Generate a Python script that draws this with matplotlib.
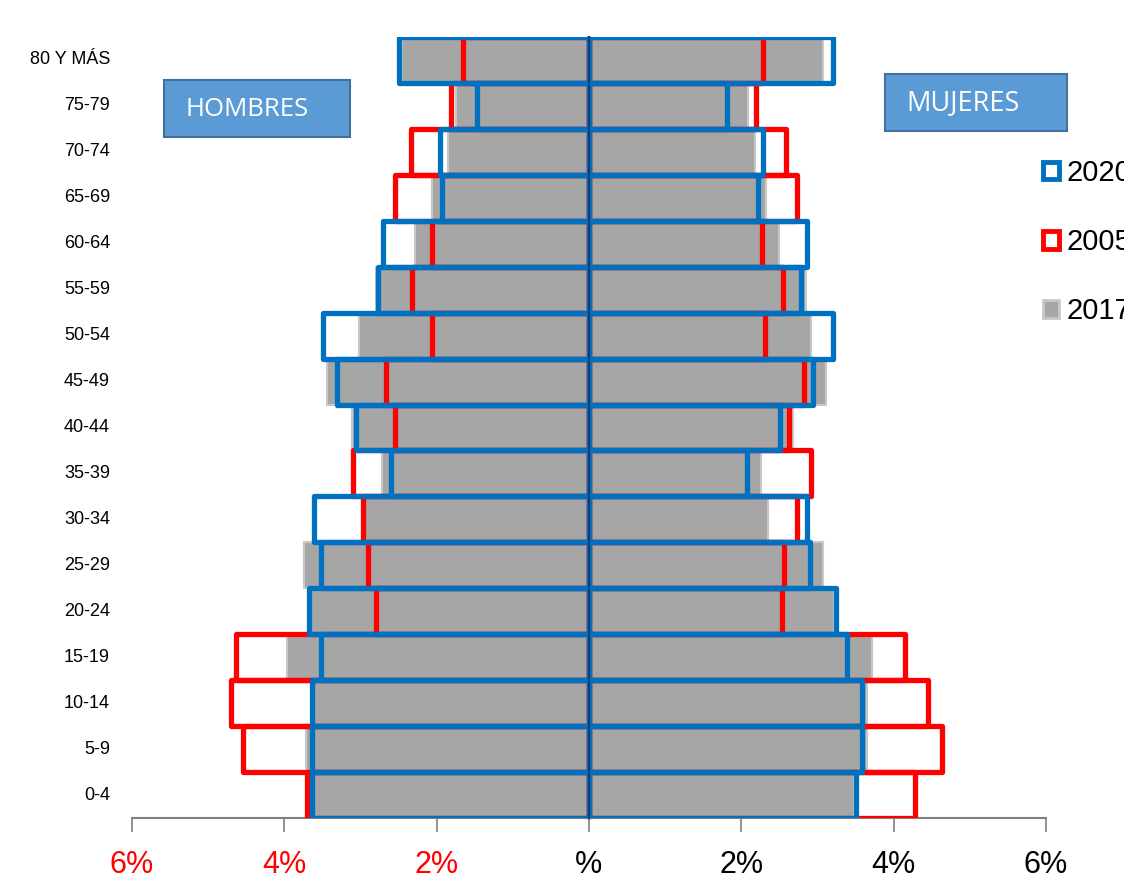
import matplotlib
matplotlib.use("Agg")
import matplotlib.pyplot as plt
from matplotlib.patches import Patch
import numpy as np

plt.rcParams['font.family'] = ['Liberation Sans', 'DejaVu Sans']

# Age groups, bottom to top
groups = ["0-4", "5-9", "10-14", "15-19", "20-24", "25-29", "30-34", "35-39",
          "40-44", "45-49", "50-54", "55-59", "60-64", "65-69", "70-74",
          "75-79", "80 Y MÁS"]

# Percent of population (hombres shown on the left)
hombres_2017 = [3.64, 3.71, 3.64, 3.96, 3.66, 3.74, 2.95, 2.72, 3.11, 3.44,
                3.02, 2.79, 2.28, 2.06, 1.85, 1.75, 2.46]
hombres_2005 = [3.70, 4.54, 4.70, 4.63, 2.80, 2.90, 2.97, 3.10, 2.55, 2.66,
                2.06, 2.32, 2.06, 2.55, 2.34, 1.81, 1.66]
hombres_2020 = [3.64, 3.64, 3.64, 3.52, 3.67, 3.52, 3.61, 2.60, 3.06, 3.31,
                3.49, 2.77, 2.70, 1.93, 1.96, 1.47, 2.49]

mujeres_2017 = [3.48, 3.65, 3.65, 3.72, 3.22, 3.07, 2.35, 2.26, 2.68, 3.11,
                2.92, 2.85, 2.49, 2.32, 2.18, 2.09, 3.07]
mujeres_2005 = [4.28, 4.63, 4.45, 4.15, 2.53, 2.56, 2.73, 2.91, 2.62, 2.82,
                2.31, 2.55, 2.27, 2.73, 2.59, 2.19, 2.29]
mujeres_2020 = [3.51, 3.58, 3.58, 3.39, 3.24, 2.90, 2.86, 2.08, 2.51, 2.94,
                3.20, 2.78, 2.86, 2.22, 2.29, 1.81, 3.20]

xticks = [-6, -4, -2, 0, 2, 4, 6]
xtick_labels = ["6%", "4%", "2%", "%", "2%", "4%", "6%"]
xtick_colors = ["#FF0000", "#FF0000", "#FF0000", "black", "black", "black", "black"]

GRAY = "#A6A6A6"
RED = "#FF0000"
BLUE = "#0070C0"

fig = plt.figure(figsize=(11.24, 8.8), dpi=100)
W, H = 1124, 880
ax = fig.add_axes([132 / W, 1 - 818 / H, (1046 - 132) / W, (818 - 37) / H])

y = np.arange(len(groups))

def both(vals_h, vals_m, **kw):
    ax.barh(y, -np.array(vals_h), height=1.0, **kw)
    ax.barh(y, np.array(vals_m), height=1.0, **kw)

both(hombres_2017, mujeres_2017, color=GRAY, edgecolor="#C8C8C8", linewidth=1.5, zorder=2)
both(hombres_2005, mujeres_2005, facecolor="none", edgecolor=RED, linewidth=3.8,
     joinstyle="round", zorder=3)
both(hombres_2020, mujeres_2020, facecolor="none", edgecolor=BLUE, linewidth=3.8,
     joinstyle="round", zorder=4)

ax.set_xlim(-6, 6)
ax.set_ylim(-0.5, len(groups) - 0.5)

# spines
for s in ["top", "right"]:
    ax.spines[s].set_visible(False)
ax.spines["left"].set_position(("data", 0))
ax.spines["left"].set_color("#203864")
ax.spines["left"].set_linewidth(1.5)
ax.spines["left"].set_zorder(5)
ax.spines["bottom"].set_color("#808080")
ax.spines["bottom"].set_linewidth(1.5)

ax.set_yticks(np.arange(-0.5, len(groups), 0.5))
ax.tick_params(axis="y", direction="inout", length=5, width=1, color="#203864",
               labelleft=False)

ax.set_xticks(xticks)
ax.tick_params(axis="x", direction="out", length=10, width=1.2, color="#808080",
               labelbottom=False)

# x tick labels as text placed below the axis
xtrans = ax.get_xaxis_transform()
for xv, lab, col in zip(xticks, xtick_labels, xtick_colors):
    ax.text(xv, -(865 - 818) / (818 - 37), lab, transform=xtrans, ha="center",
            va="center", fontsize=22, color=col, clip_on=False)

# category labels
trans = ax.get_yaxis_transform()
for yi, g in zip(y, groups):
    ax.text(-0.024, yi, g, transform=trans, ha="right", va="center", fontsize=13,
            color="black")

# text boxes
box_kw = dict(facecolor="#5B9BD5", edgecolor="#41719C", linewidth=1.5)
fig.text(185 / W, 1 - 109 / H, "HOMBRES", fontsize=18.5, color="white", va="center",
         ha="left", family=["Open Sans", "DejaVu Sans"])
fig.patches.append(plt.Rectangle((164 / W, 1 - 137 / H), 186 / W, 57 / H,
                                 transform=fig.transFigure, zorder=0, **box_kw))
fig.text(906 / W, 1 - 103 / H, "MUJERES", fontsize=19.5, color="white", va="center",
         ha="left", family=["Open Sans", "DejaVu Sans"])
fig.patches.append(plt.Rectangle((885 / W, 1 - 131 / H), 182 / W, 57 / H,
                                 transform=fig.transFigure, zorder=0, **box_kw))

# legend
handles = [Patch(facecolor="white", edgecolor=BLUE, linewidth=3.5, label="2020"),
           Patch(facecolor="white", edgecolor=RED, linewidth=3.5, label="2005"),
           Patch(facecolor=GRAY, edgecolor="#C8C8C8", linewidth=2, label="2017")]
fig.legend(handles=handles, loc="upper left", bbox_to_anchor=(1031 / W, 1 - 147 / H),
           frameon=False, fontsize=21, handlelength=0.55, handleheight=0.55,
           handletextpad=0.25, labelspacing=1.42, borderaxespad=0)

fig.savefig("out.png", dpi=100)
